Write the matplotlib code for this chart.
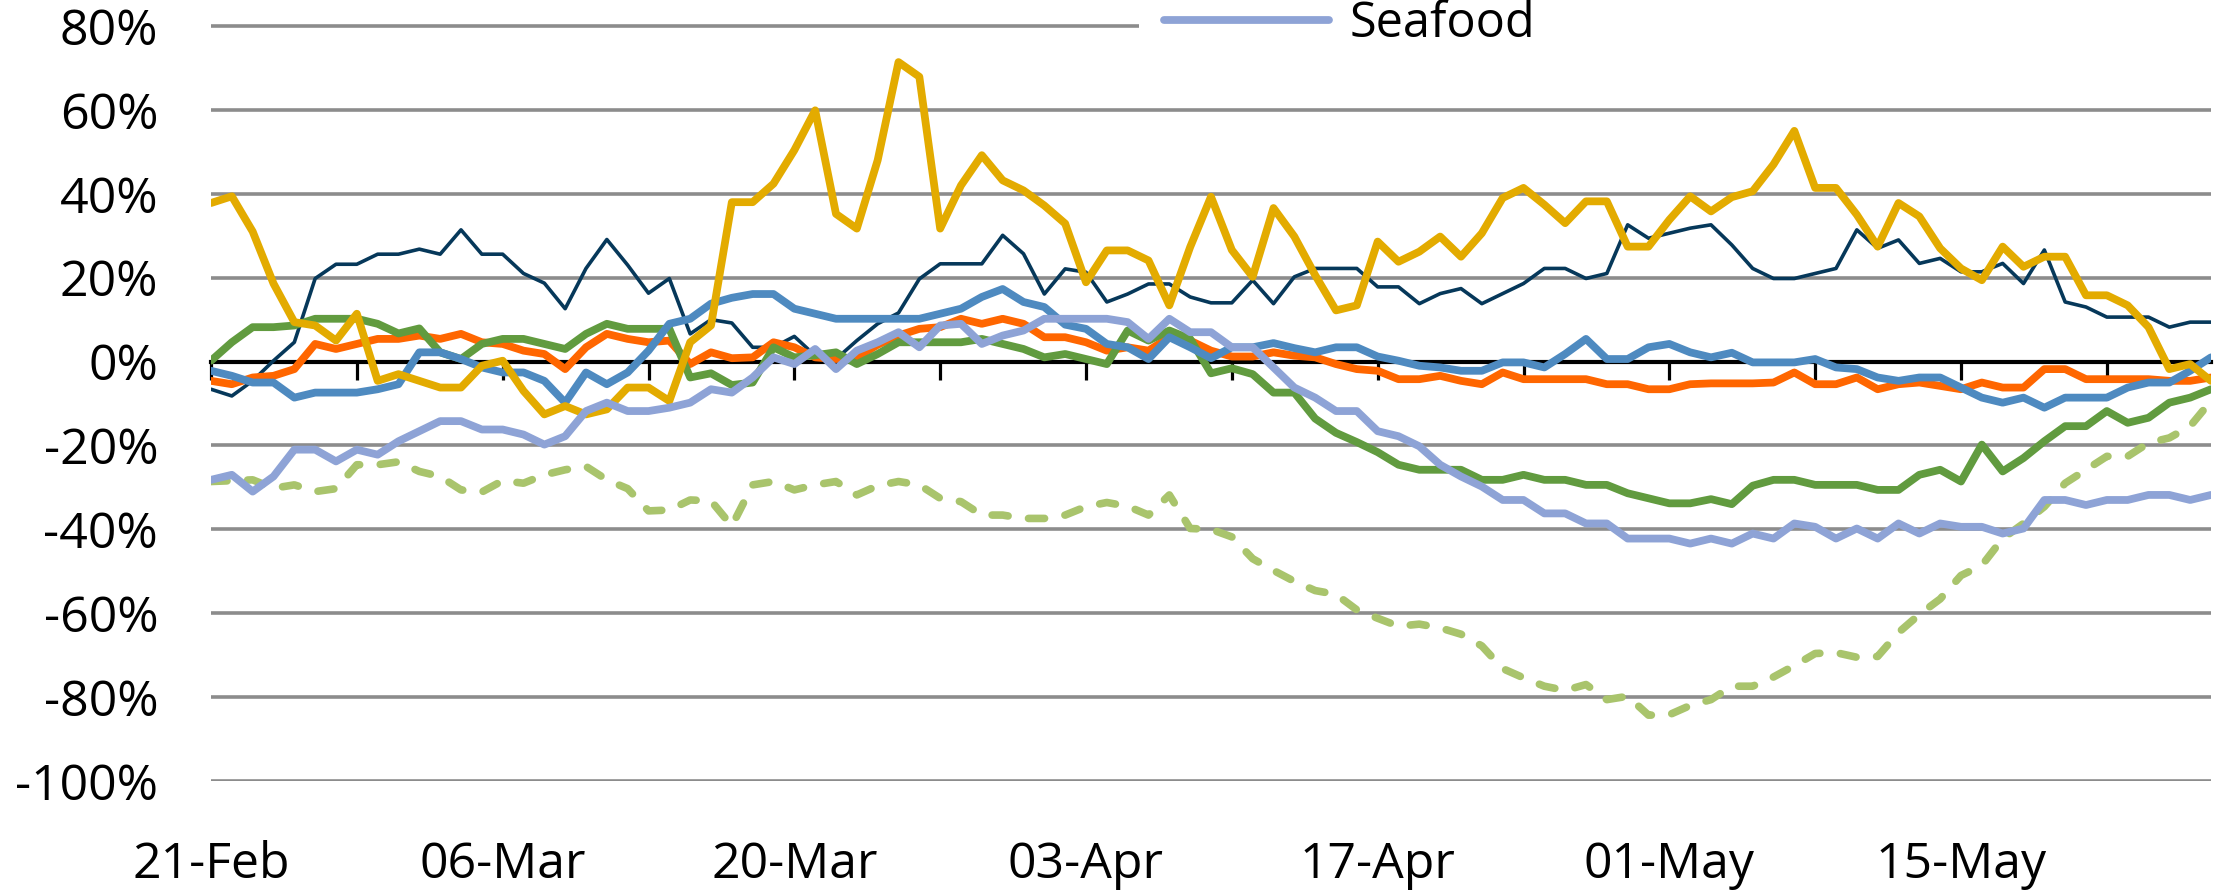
import matplotlib
matplotlib.use("Agg")
import matplotlib.pyplot as plt
import matplotlib.dates as mdates
from matplotlib.ticker import FuncFormatter, NullFormatter
from matplotlib.patches import Rectangle
import pandas as pd

# daily values, 21-Feb to 27-May (% change)
dates = pd.date_range("2020-02-21", periods=97, freq="D")

navy = [-6.6, -8.2, -4.6, 0.2, 4.6, 19.8, 23.2, 23.2, 25.6, 25.6,
        26.8, 25.6, 31.4, 25.6, 25.6, 21.0, 18.7, 12.6, 22.2, 29.1,
        23.0, 16.3, 19.8, 6.6, 10.0, 9.2, 3.4, 3.4, 6.0, 1.4,
        0.6, 5.0, 9.0, 11.6, 19.7, 23.3, 23.3, 23.3, 30.1, 25.7,
        16.1, 22.1, 21.3, 14.2, 16.1, 18.5, 18.5, 15.4, 14.0, 14.0,
        19.4, 13.8, 20.2, 22.2, 22.2, 22.2, 17.8, 17.8, 13.8, 16.2,
        17.4, 13.8, 16.2, 18.6, 22.2, 22.2, 19.8, 21.0, 32.6, 29.4,
        30.6, 31.8, 32.6, 27.8, 22.2, 19.8, 19.8, 21.0, 22.2, 31.4,
        27.0, 29.0, 23.4, 24.6, 21.4, 21.4, 23.4, 18.6, 26.6, 14.2,
        13.0, 10.6, 10.6, 10.6, 8.2, 9.4, 9.4]

gold = [37.8, 39.4, 31.0, 18.6, 9.4, 8.6, 5.0, 11.4, -4.6, -3.0,
        -4.6, -6.2, -6.2, -1.0, 0.2, -7.0, -12.6, -10.6, -12.6, -11.4,
        -6.2, -6.2, -9.4, 4.6, 8.6, 38.0, 38.0, 42.4, 50.4, 59.9,
        35.2, 31.7, 48.0, 71.4, 67.9, 31.7, 42.0, 49.2, 43.2, 40.8,
        37.2, 32.9, 18.9, 26.5, 26.5, 24.1, 13.4, 27.3, 39.3, 26.6,
        20.2, 36.6, 29.8, 20.6, 12.2, 13.4, 28.6, 23.8, 26.2, 29.8,
        25.0, 30.6, 39.0, 41.4, 37.4, 33.0, 38.2, 38.2, 27.4, 27.4,
        33.8, 39.4, 35.8, 39.2, 40.6, 47.0, 55.0, 41.4, 41.4, 35.0,
        27.4, 37.8, 34.6, 27.0, 22.2, 19.4, 27.4, 22.6, 25.0, 25.0,
        15.8, 15.8, 13.4, 8.2, -1.8, -0.6, -4.6]

orange = [-4.6, -5.4, -3.8, -3.4, -1.8, 4.2, 3.0, 4.2, 5.4, 5.4,
          6.2, 5.4, 6.6, 4.6, 4.2, 2.6, 1.8, -1.8, 3.4, 6.6,
          5.4, 4.6, 5.0, -0.6, 2.2, 0.8, 1.0, 4.6, 3.4, 1.0,
          0.6, 1.0, 4.0, 6.2, 7.8, 8.2, 10.2, 9.0, 10.2, 9.0,
          5.8, 5.8, 4.6, 2.6, 3.4, 2.6, 5.8, 5.0, 2.6, 1.2,
          1.2, 2.2, 1.4, 1.0, -0.6, -1.8, -2.2, -4.2, -4.2, -3.4,
          -4.6, -5.4, -2.6, -4.2, -4.2, -4.2, -4.2, -5.4, -5.4, -6.6,
          -6.6, -5.4, -5.2, -5.2, -5.2, -5.0, -2.6, -5.4, -5.4, -3.8,
          -6.6, -5.4, -5.0, -5.8, -6.6, -5.0, -6.2, -6.2, -1.8, -1.8,
          -4.2, -4.2, -4.2, -4.2, -4.6, -4.6, -3.8]

blue = [-2.2, -3.4, -5.0, -5.0, -8.6, -7.4, -7.4, -7.4, -6.6, -5.4,
        2.2, 2.2, 0.6, -1.4, -2.6, -2.6, -4.6, -9.8, -2.6, -5.4,
        -2.6, 2.6, 9.0, 10.2, 13.8, 15.2, 16.1, 16.1, 12.6, 11.4,
        10.2, 10.2, 10.2, 10.2, 10.2, 11.4, 12.6, 15.4, 17.3, 14.2,
        13.0, 8.8, 7.8, 4.2, 3.4, 0.6, 5.8, 3.4, 0.8, 3.4,
        3.4, 4.4, 3.2, 2.2, 3.4, 3.4, 1.2, 0.2, -1.0, -1.4,
        -2.2, -2.2, -0.2, -0.2, -1.4, 1.8, 5.4, 0.6, 0.6, 3.4,
        4.2, 2.2, 1.0, 2.1, -0.2, -0.2, -0.2, 0.6, -1.4, -1.8,
        -3.8, -4.6, -3.8, -3.8, -6.2, -8.6, -9.8, -8.6, -11.0, -8.6,
        -8.6, -8.6, -6.2, -5.0, -5.0, -2.2, 1.0]

green = [0.2, 4.6, 8.2, 8.2, 8.6, 10.2, 10.2, 10.2, 9.0, 6.7,
         7.9, 2.2, 0.6, 4.2, 5.4, 5.4, 4.2, 3.0, 6.6, 9.0,
         7.8, 7.8, 7.8, -3.8, -2.8, -5.6, -5.0, 3.4, 1.0, 1.5,
         2.2, -0.6, 1.8, 4.6, 4.6, 4.6, 4.6, 5.4, 4.2, 3.0,
         1.0, 1.8, 0.6, -0.6, 7.4, 5.0, 7.4, 5.4, -2.8, -1.6,
         -3.0, -7.4, -7.4, -13.6, -17.0, -19.2, -21.6, -24.6, -25.8, -25.8,
         -25.8, -28.2, -28.2, -27.0, -28.2, -28.2, -29.4, -29.4, -31.4, -32.6,
         -33.8, -33.8, -32.8, -34.0, -29.6, -28.2, -28.2, -29.4, -29.4, -29.4,
         -30.6, -30.6, -27.0, -25.8, -28.6, -19.8, -26.2, -23.0, -19.0, -15.4,
         -15.4, -11.8, -14.6, -13.4, -9.8, -8.6, -6.6]

seafood = [-28.2, -27.0, -31.0, -27.4, -21.0, -21.0, -23.8, -21.0, -22.2, -19.0,
           -16.6, -14.2, -14.2, -16.2, -16.2, -17.4, -19.8, -17.8, -11.8, -9.8,
           -11.8, -11.8, -11.0, -9.8, -6.6, -7.4, -3.8, 1.0, -0.6, 3.0,
           -1.8, 2.6, 4.6, 7.0, 3.4, 8.6, 9.0, 4.2, 6.2, 7.4,
           10.2, 10.2, 10.2, 10.2, 9.4, 5.4, 10.2, 7.0, 7.0, 3.4,
           3.4, -1.4, -6.2, -8.6, -11.8, -11.8, -16.6, -17.8, -20.2, -24.6,
           -27.4, -29.8, -33.0, -33.0, -36.2, -36.2, -38.6, -38.6, -42.2, -42.2,
           -42.2, -43.4, -42.2, -43.4, -41.0, -42.2, -38.6, -39.4, -42.2, -39.8,
           -42.2, -38.6, -41.0, -38.6, -39.4, -39.4, -41.0, -39.8, -33.0, -33.0,
           -34.2, -33.0, -33.0, -31.8, -31.8, -33.0, -31.8]

dashed = [-28.6, -28.4, -28.2, -30.2, -29.4, -31.0, -30.3, -24.6, -24.6, -23.9,
          -26.2, -27.4, -30.6, -31.1, -28.4, -29.0, -27.0, -25.8, -25.0, -28.2,
          -30.3, -35.6, -35.4, -33.0, -33.2, -39.2, -29.4, -28.6, -30.6, -29.4,
          -28.6, -31.8, -29.6, -28.6, -29.4, -32.6, -33.4, -36.6, -36.6, -37.4,
          -37.4, -36.6, -34.6, -33.6, -34.5, -36.6, -31.8, -39.8, -40.0, -41.8,
          -47.0, -49.8, -52.4, -54.6, -55.5, -59.2, -61.2, -63.1, -62.6, -63.5,
          -65.0, -67.8, -73.2, -75.4, -77.4, -78.4, -77.0, -80.6, -79.8, -84.3,
          -84.2, -82.0, -80.6, -77.4, -77.4, -75.2, -72.5, -69.6, -69.4, -70.5,
          -70.3, -64.6, -60.3, -56.6, -51.0, -48.6, -42.2, -38.6, -34.6, -29.0,
          -25.8, -22.6, -22.6, -19.4, -18.2, -15.4, -9.4]

y_ticks = list(range(-100, 81, 20))

plt.rcParams['font.family'] = ['Open Sans', 'DejaVu Sans']

fig = plt.figure(figsize=(22.25, 8.93), dpi=100)
ax = fig.add_axes([211 / 2225, 112 / 893, 2000 / 2225, 781 / 893])

line_kw = dict(solid_capstyle='round', solid_joinstyle='round')
ax.plot(dates, dashed, color='#a9c46c', lw=5.5, dashes=(2.1, 2.7),
        dash_capstyle='round', dash_joinstyle='round')
ax.plot(dates, navy, color='#06385a', lw=2.6, **line_kw)
ax.plot(dates, orange, color='#ff6600', lw=5.6, **line_kw)
ax.plot(dates, green, color='#619b3f', lw=5.6, **line_kw)
ax.plot(dates, blue, color='#4e8ac0', lw=5.6, **line_kw)
ax.plot(dates, gold, color='#e3ab00', lw=5.6, **line_kw)
sea_line, = ax.plot(dates, seafood, color='#8ea3d6', lw=5.6, **line_kw)

ax.set_xlim(dates[0], dates[-1])
ax.set_ylim(-100, 86.2)

for s in ax.spines.values():
    s.set_visible(False)

ax.set_yticks(y_ticks)
ax.yaxis.set_major_formatter(FuncFormatter(lambda v, p: f"{int(v)}%"))
ax.yaxis.grid(True, color='#8c8c8c', lw=2.6)
ax.set_axisbelow(True)
ax.tick_params(axis='y', length=0, pad=38, labelsize=36)

ax.set_xticks(dates[::14])
ax.xaxis.set_major_formatter(mdates.DateFormatter('%d-%b'))
ax.tick_params(axis='x', length=0, pad=43, labelsize=36)

# black axis line at 0% with weekly ticks pointing down
sec = ax.secondary_xaxis(100 / 186.2)
sec.set_zorder(1)
sec.patch.set_visible(False)
sec.xaxis.set_ticks_position('bottom')
sec.set_xticks(mdates.date2num(dates[::7]))
sec.xaxis.set_major_formatter(NullFormatter())
sec.tick_params(axis='x', which='both', direction='out', length=13, width=2.3,
                color='black', bottom=True, top=False,
                labelbottom=False, labeltop=False)
for side in ('top', 'bottom'):
    sec.spines[side].set_linewidth(3)
    sec.spines[side].set_color('black')

# white legend background hides part of the top gridline
ax.add_patch(Rectangle((0.464, 0.942), 0.6, 0.1, transform=ax.transAxes,
                       facecolor='white', edgecolor='none', zorder=1))

ax.legend([sea_line], ['Seafood'], loc='center left',
          bbox_to_anchor=(1164 / 2225, 869 / 893), bbox_transform=fig.transFigure,
          frameon=False, fontsize=35, handlelength=3.4, handletextpad=0.42,
          borderpad=0, borderaxespad=0)

fig.savefig('out.png', dpi=100)
